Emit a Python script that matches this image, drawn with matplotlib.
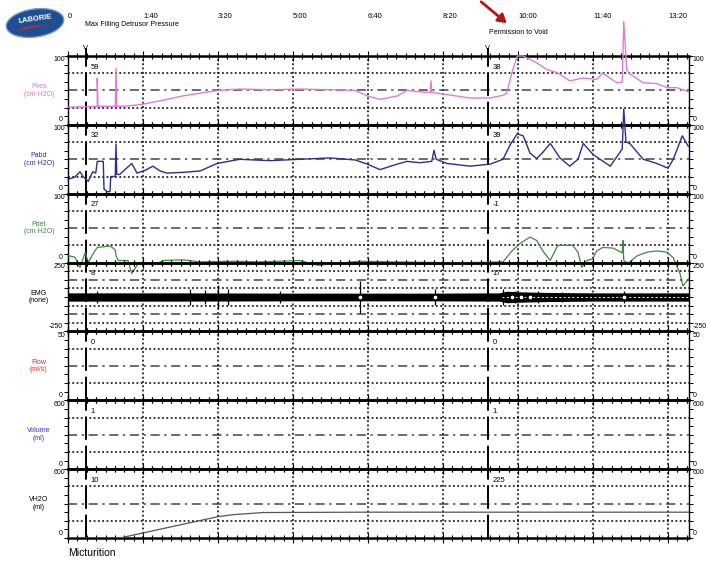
import numpy as np
import matplotlib.pyplot as plt
from matplotlib.patches import Ellipse, Polygon, FancyArrowPatch
from matplotlib.ticker import MultipleLocator
import matplotlib.transforms as mtransforms

plt.rcParams['font.family'] = ['Liberation Sans', 'DejaVu Sans']

# ---- traces (time in seconds) ----
pves_t = [0, 16, 36, 39, 39, 40, 63, 64, 65, 76, 100, 123, 153, 176, 200, 229, 269,
          309, 349, 383, 399, 416, 439, 452, 469, 483, 484, 485, 505, 536, 563, 580,
          585, 592, 599, 607, 616, 625, 639, 652, 669, 687, 705, 713, 732, 739, 741,
          745, 749, 767, 785, 799, 812, 827]
pves = [26, 26, 27, 27, 68, 27, 27, 82, 27, 27, 30, 35, 42, 46, 50, 52, 51,
        52, 51, 50, 42, 37, 42, 50, 48, 47, 64, 47, 44, 39, 39, 43,
        46, 76, 100, 100, 95, 90, 80, 76, 64, 68, 66, 75, 61, 62, 150,
        80, 74, 61, 60, 54, 54, 48]

pabd_t = [0, 9, 16, 20, 27, 33, 37, 39, 47, 48, 52, 56, 57, 63, 64, 65, 69, 79, 85,
          92, 103, 113, 123, 132, 153, 176, 199, 229, 269, 309, 349, 383, 399, 416,
          439, 452, 469, 485, 488, 491, 505, 536, 563, 580, 589, 599, 607, 616, 625,
          633, 643, 656, 669, 680, 687, 700, 723, 739, 741, 744, 749, 767, 785, 800,
          807, 819, 827]
pabd = [21, 24, 32, 25, 18, 32, 30, 47, 47, 7, 3, 3, 25, 25, 72, 28, 28, 38, 44,
        30, 34, 40, 33, 30, 31, 33, 44, 50, 48, 50, 52, 49, 43, 35,
        43, 47, 45, 47, 63, 50, 44, 40, 43, 50, 70, 87, 84, 59, 51,
        60, 73, 52, 40, 50, 73, 57, 40, 65, 123, 75, 73, 50, 44, 37,
        50, 84, 69]

pdet_t = [0, 9, 16, 23, 27, 33, 39, 56, 59, 63, 64, 67, 80, 85, 92, 100, 113, 127,
          153, 176, 220, 256, 309, 333, 389, 429, 496, 536, 580, 592, 603, 616, 625,
          633, 643, 653, 673, 680, 685, 692, 699, 705, 713, 727, 739, 740, 741, 747,
          759, 772, 785, 799, 807, 816, 820, 827]
pdet = [10, 8, -7, 15, 0, 12, 22, 24, 22, 18, 10, 3, 3, -16, -4, 0, -4, 3,
        4, 1, 2, 1, 3, -4, 2, 1, 0, 0, 1, 17, 28, 37, 32,
        17, 3, 25, 25, 15, -7, 3, 5, 17, 22, 21, 14, 32, 3, -1,
        10, 15, 17, 15, 7, -16, -34, -24]

emg_t = [0, 150, 300, 480, 575, 585, 600, 640, 700, 828]
emg_amp = [30, 30, 28, 28, 30, 42, 38, 33, 30, 30]
emg_spike_t = [39, 163, 183, 200, 213, 283, 389, 489, 580, 596, 627, 659, 741]
emg_spike_amp = [40, 60, 50, 90, 60, 45, 115, 55, 60, 45, 40, 35, 40]
emg_ring_t = [389, 489, 592, 604, 616, 741]

flow_t = [0, 828]
flow = [0, 0]
vol_t = [0, 828]
vol = [0, 0]
vh2o_t = [0, 69, 200, 220, 260, 400, 828]
vh2o = [0, 0, 186, 203, 222, 225, 225]

names = ["Pves\n(cm H2O)", "Pabd\n(cm H2O)", "Pdet\n(cm H2O)", "EMG\n(none)",
         "Flow\n(ml/s)", "Volume\n(ml)", "VH2O\n(ml)"]
name_colors = ["#e070d8", "#2b2b8c", "#3c8c3c", "black", "#d83030", "#3434c8", "black"]
ranges = [(0, 100), (0, 100), (0, 100), (-250, 250), (0, 50), (0, 600), (0, 600)]
range_labels = [("100", "0"), ("100", "0"), ("100", "0"), ("250", "-250"),
                ("50", "0"), ("600", "0"), ("600", "0")]
event_t = [24, 560]
event_vals = [["59", "32", "27", "8", "0", "1", "10"],
              ["38", "39", "-1", "17", "0", "1", "225"]]
event_notes = ["Max Filling Detrusor Pressure", "Permission to Void"]
time_ticks = [0, 100, 200, 300, 400, 500, 600, 700, 800]
time_labels = ["0", "1:40", "3:20", "5:00", "6:40", "8:20", "10:00", "11:40", "13:20"]
t_end = 828

W, H = 706, 561
fig = plt.figure(figsize=(W / 100, H / 100), dpi=100)
left, right, top, bot = 68, 689, 56, 538
ph = (bot - top) / 7.0

axes = []
for i in range(7):
    ax = fig.add_axes([left / W, 1 - (top + (i + 1) * ph) / H, (right - left) / W, ph / H])
    ax.set_facecolor("none")
    lo, hi = ranges[i]
    ax.set_xlim(0, t_end)
    ax.set_ylim(lo, hi)
    for s in ["top", "bottom"]:
        ax.spines[s].set_linewidth(1.8)
    for s in ["left", "right"]:
        ax.spines[s].set_linewidth(1.0)
    ax.set_xticks(time_ticks)
    ax.xaxis.set_minor_locator(MultipleLocator(12.5))
    ax.tick_params(axis="x", which="both", top=True, bottom=True, direction="inout",
                   labelbottom=False, width=0.8)
    ax.tick_params(axis="x", which="major", length=7)
    ax.tick_params(axis="x", which="minor", length=4)
    ax.set_yticks([lo, hi])
    ax.yaxis.set_minor_locator(MultipleLocator((hi - lo) / 8))
    ax.tick_params(axis="y", which="both", left=True, right=True, direction="out",
                   labelleft=False, length=3, width=0.7)

    # grid
    for t in time_ticks[1:]:
        ax.axvline(t, color="black", lw=1.1, linestyle=(0, (1.2, 1.6)), zorder=1)
    if i == 3:
        fracs = [(0.125, "dot"), (0.25, "dd"), (0.375, "dot"),
                 (0.625, "dot"), (0.75, "dd"), (0.875, "dot")]
    else:
        fracs = [(0.25, "dot"), (0.5, "dd"), (0.75, "dot")]
    for f, kind in fracs:
        y = lo + f * (hi - lo)
        if kind == "dot":
            ax.axhline(y, color="black", lw=1.1, linestyle=(0, (1.2, 1.6)), zorder=1)
        else:
            ax.axhline(y, color="#444444", lw=1.1, linestyle=(0, (6, 3, 1.5, 3)), zorder=1)

    # range labels
    ax.text(-0.004, 0.995, range_labels[i][0], transform=ax.transAxes, ha="right",
            va="top", fontsize=5)
    ax.text(-0.008, 0.02, range_labels[i][1], transform=ax.transAxes, ha="right",
            va="bottom", fontsize=5)
    ax.text(1.006, 0.995, range_labels[i][0], transform=ax.transAxes, ha="left",
            va="top", fontsize=5)
    ax.text(1.006, 0.02, range_labels[i][1], transform=ax.transAxes, ha="left",
            va="bottom", fontsize=5)

    # channel name
    ax.text(-0.047, 0.5, names[i], transform=ax.transAxes, ha="center", va="center",
            fontsize=5, color=name_colors[i], linespacing=1.1)

    # event lines and readings
    for k, t in enumerate(event_t):
        ymax = 1.12 if i == 0 else 1.0
        ax.axvline(t, ymin=0, ymax=ymax, color="black", lw=1.4,
                   linestyle=(0, (12, 3)), clip_on=False, zorder=3)
        trans = mtransforms.blended_transform_factory(ax.transData, ax.transAxes)
        ax.text(t + 6, 0.84, event_vals[k][i], transform=trans, fontsize=5.5,
                va="center", ha="left")
    axes.append(ax)

# traces
axes[0].plot(pves_t, pves, color="#e27ad9", lw=1.0, clip_on=False, zorder=4)
axes[1].plot(pabd_t, pabd, color="#2e2e8e", lw=1.0, clip_on=False, zorder=4)
axes[2].plot(pdet_t, pdet, color="#3c8c3c", lw=0.9, clip_on=False, zorder=4)

emg = axes[3]
emg.fill_between(emg_t, [-a for a in emg_amp], emg_amp, color="black", lw=0, zorder=4)
emg.vlines(emg_spike_t, [-a for a in emg_spike_amp], emg_spike_amp, color="black",
           lw=0.9, zorder=4)
emg.plot([578, t_end], [0, 0], color="white", lw=0.7, linestyle=(0, (2, 2.5)), zorder=5)
emg.plot(emg_ring_t, np.zeros(len(emg_ring_t)), "o", ms=3.5, mfc="white", mec="black",
         mew=0.8, zorder=6)

axes[4].plot(flow_t, flow, color="#d83030", lw=0.8, zorder=4)
axes[5].plot(vol_t, vol, color="#3434c8", lw=0.8, zorder=4)
axes[6].plot(vh2o_t, vh2o, color="#555555", lw=0.9, zorder=4)

# time scale and notes above the top panel
top_ax = axes[0]
ttrans = mtransforms.blended_transform_factory(top_ax.transData, top_ax.transAxes)
for t, lab in zip(time_ticks, time_labels):
    top_ax.text(t, 1 + 40 / ph, lab, transform=ttrans, fontsize=5.5, ha="left",
                va="center")
top_ax.text(event_t[0] - 1, 1 + 31 / ph, event_notes[0], transform=ttrans, fontsize=5,
            ha="left", va="center")
top_ax.text(event_t[1] + 1, 1 + 23 / ph, event_notes[1], transform=ttrans, fontsize=5,
            ha="left", va="center")
for t in event_t:
    top_ax.text(t, 1 + 7 / ph, "V", transform=ttrans, fontsize=5.5, ha="center",
                va="center")

# red arrow pointing to the void permission mark
fig.patches.append(FancyArrowPatch(
    (479 / W, 1 - 0 / H), (509 / W, 1 - 25 / H), transform=fig.transFigure,
    arrowstyle="-|>,head_length=5,head_width=3", color="#b01818", lw=2.0))

# logo
logo = fig.add_axes([4 / W, 1 - 42 / H, 62 / W, 38 / H])
logo.set_xlim(0, 62)
logo.set_ylim(0, 38)
logo.axis("off")
logo.add_patch(Ellipse((31, 19), 58, 28, angle=8, facecolor="#1d4f92",
                       edgecolor="#7a9cc8", lw=1))
logo.add_patch(Polygon([[12, 11], [48, 18], [22, 15]], closed=True, facecolor="#d62828",
                       edgecolor="none"))
logo.text(31, 23, "LABORIE", color="white", fontsize=5.5, fontweight="bold",
          ha="center", va="center", rotation=8)

fig.text(68 / W, 1 - 553 / H, "Micturition", fontsize=7.5, ha="left", va="center")

fig.savefig("out.png", dpi=100)
